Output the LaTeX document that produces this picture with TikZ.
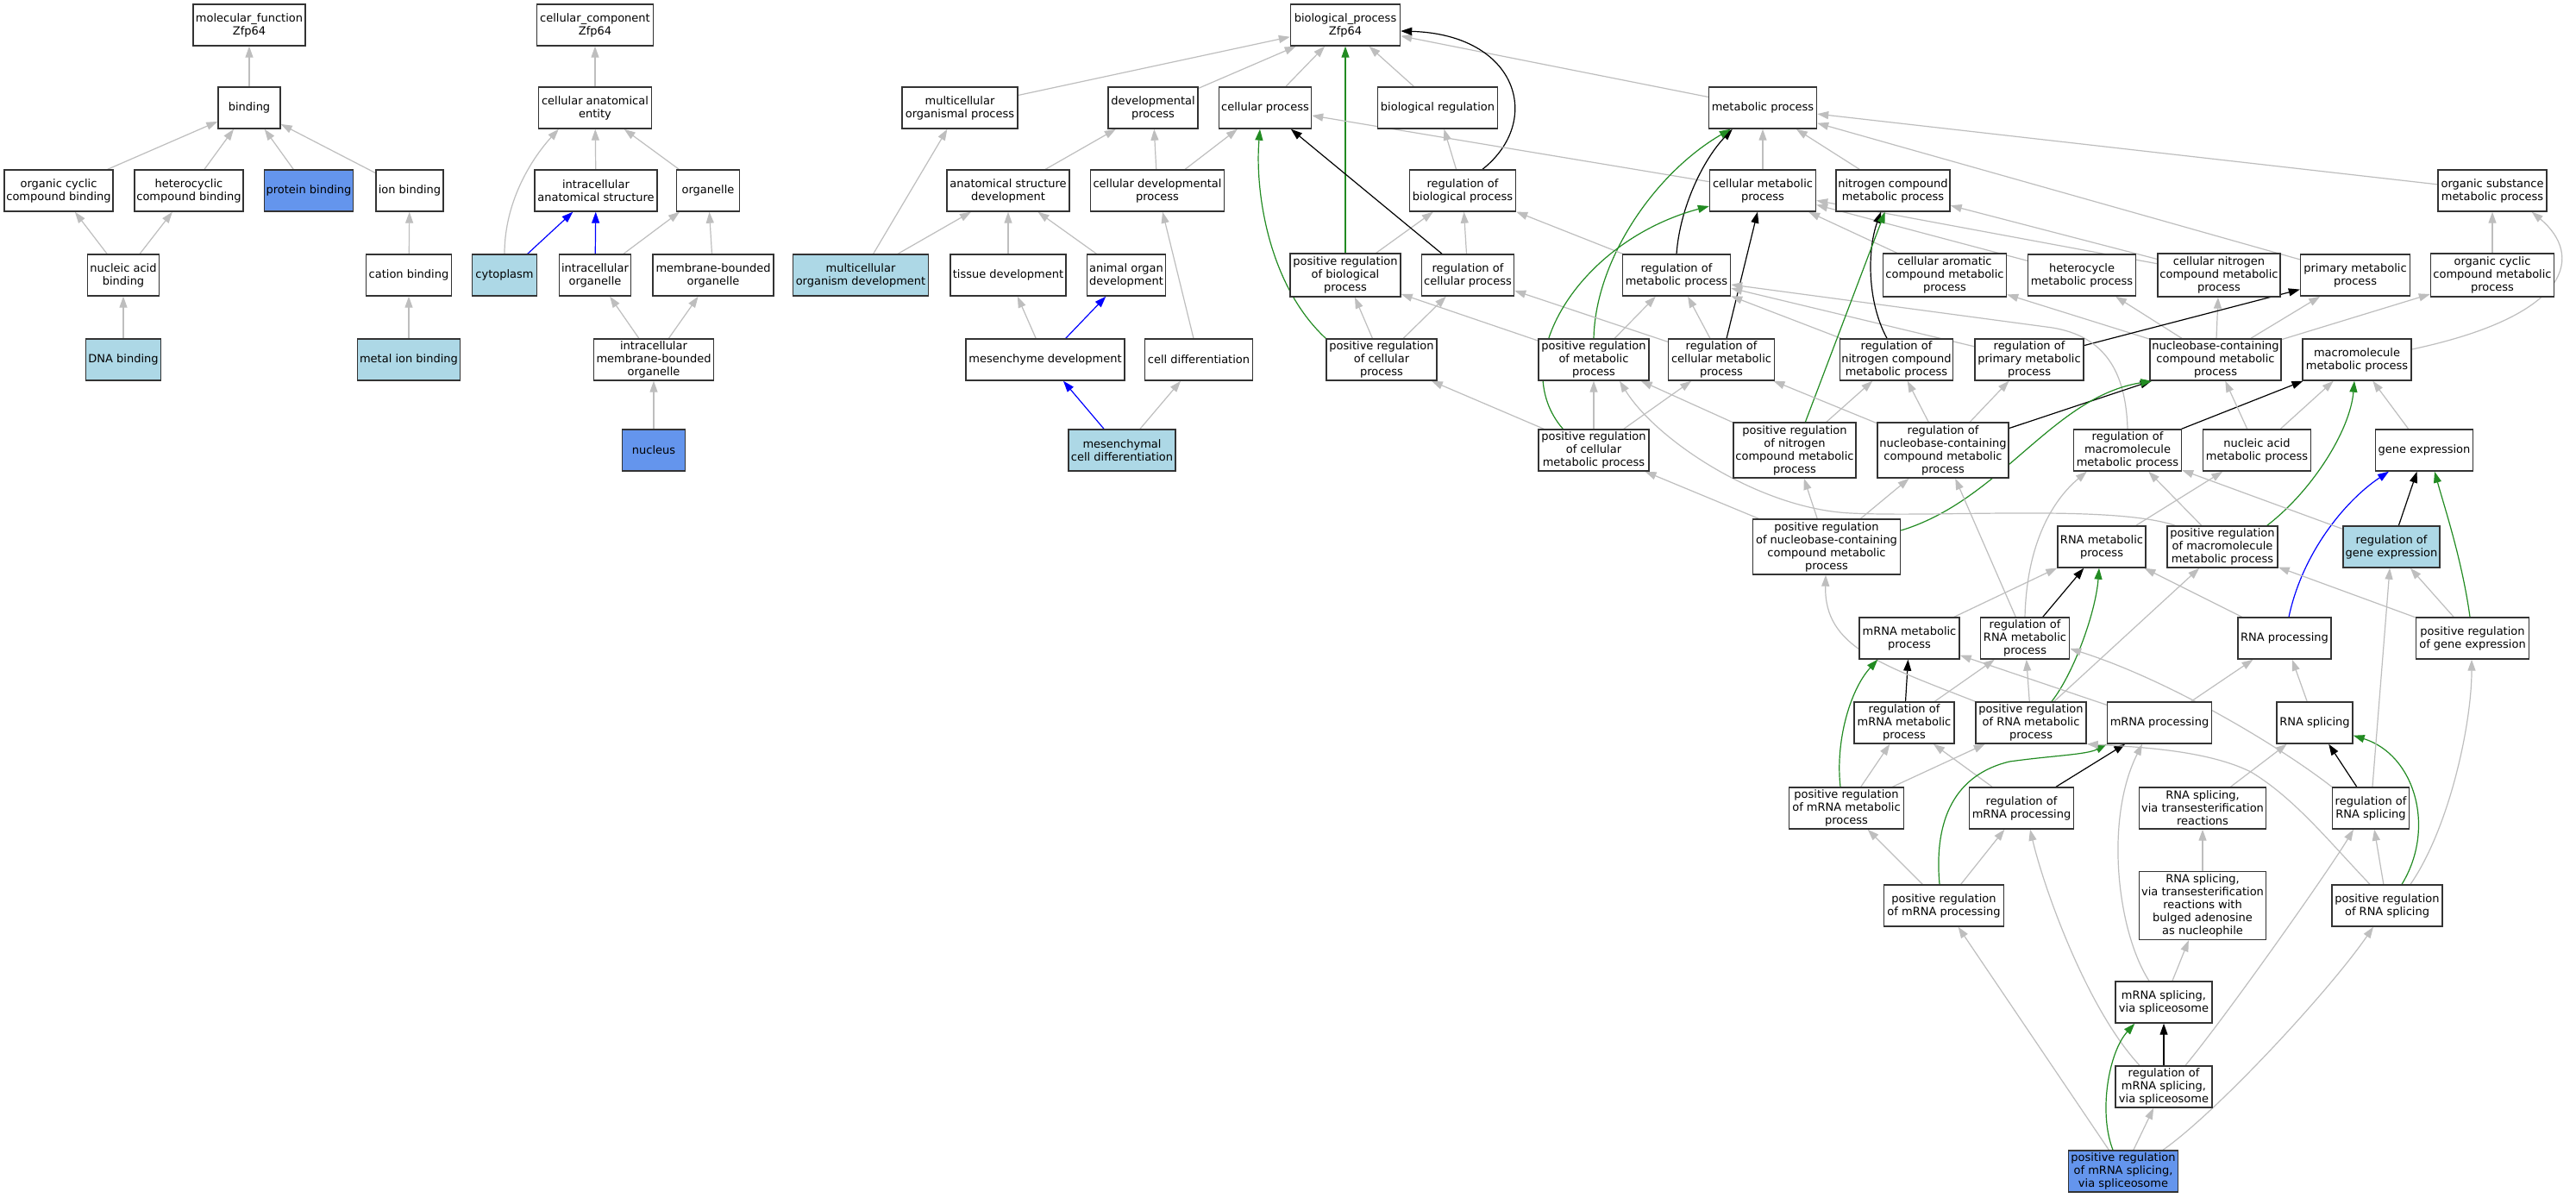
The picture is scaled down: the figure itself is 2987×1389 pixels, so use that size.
\documentclass[tikz,border=0pt]{standalone}
\usepackage{fontspec}
\setmainfont{DejaVu Sans}
\usetikzlibrary{arrows.meta}
\pgfdeclarelayer{bg}
\pgfsetlayers{bg,main}
\definecolor{edgegray}{HTML}{BEBEBE}
\definecolor{fgreen}{HTML}{228B22}
\definecolor{lblue}{HTML}{ADD8E6}
\definecolor{cblue}{HTML}{6495ED}
\definecolor{bordergray}{HTML}{333333}
\begin{document}
\begin{tikzpicture}[x=1pt,y=-1pt,
  box/.style={draw=bordergray,line width=1.4pt,fill=white,minimum height=48pt,inner sep=0pt,align=center,font=\fontsize{13}{15}\selectfont},
  tall/.style={minimum height=64pt},
  edgebase/.style={line width=1.2pt,-{Triangle[length=13pt,width=9pt]}},
  isa/.style={edgebase,draw=edgegray},
  regl/.style={edgebase,draw=black},
  posr/.style={edgebase,draw=fgreen},
  partof/.style={edgebase,draw=blue}]
\path[use as bounding box] (0,0) rectangle (2987,1389);

% ---------- molecular function ----------
\node[box,minimum width=130pt] (mf) at (289,29) {molecular\_function\\Zfp64};
\node[box,minimum width=72pt] (bind) at (289,125) {binding};
\node[box,minimum width=126pt] (ocb) at (68,221) {organic cyclic\\compound binding};
\node[box,minimum width=126pt] (hcb) at (219,221) {heterocyclic\\compound binding};
\node[box,fill=cblue,minimum width=103pt] (pb) at (358,221) {protein binding};
\node[box,minimum width=78pt] (ionb) at (475,221) {ion binding};
\node[box,minimum width=83pt] (nab) at (143,319) {nucleic acid\\binding};
\node[box,minimum width=99pt] (catb) at (474,319) {cation binding};
\node[box,fill=lblue,minimum width=87pt] (dnab) at (143,417) {DNA binding};
\node[box,fill=lblue,minimum width=119pt] (mib) at (474,417) {metal ion binding};

% ---------- cellular component ----------
\node[box,minimum width=135pt] (cc) at (690,29) {cellular\_component\\Zfp64};
\node[box,minimum width=131pt] (cae) at (690,125) {cellular anatomical\\entity};
\node[box,minimum width=142pt] (ias) at (691,221) {intracellular\\anatomical structure};
\node[box,minimum width=73pt] (org) at (821,221) {organelle};
\node[box,fill=lblue,minimum width=75pt] (cyto) at (585,319) {cytoplasm};
\node[box,minimum width=83pt] (io) at (690,319) {intracellular\\organelle};
\node[box,minimum width=140pt] (mbo) at (827,319) {membrane-bounded\\organelle};
\node[box,minimum width=139pt] (imbo) at (758,417) {intracellular\\membrane-bounded\\organelle};
\node[box,fill=cblue,minimum width=73pt] (nuc) at (758,522) {nucleus};

% ---------- biological process ----------
\node[box,minimum width=127pt] (bp) at (1560,29) {biological\_process\\Zfp64};
\node[box,minimum width=134pt] (mop) at (1113,125) {multicellular\\organismal process};
\node[box,minimum width=104pt] (dp) at (1337,125) {developmental\\process};
\node[box,minimum width=107pt] (cp) at (1467,125) {cellular process};
\node[box,minimum width=139pt] (br) at (1667,125) {biological regulation};
\node[box,minimum width=125pt] (mp) at (2044,125) {metabolic process};
\node[box,minimum width=142pt] (asd) at (1169,221) {anatomical structure\\development};
\node[box,minimum width=155pt] (cdp) at (1342,221) {cellular developmental\\process};
\node[box,minimum width=123pt] (rbp) at (1696,221) {regulation of\\biological process};
\node[box,minimum width=123pt] (cmp) at (2044,221) {cellular metabolic\\process};
\node[box,minimum width=132pt] (ncmp) at (2195,221) {nitrogen compound\\metabolic process};
\node[box,minimum width=126pt] (osmp) at (2890,221) {organic substance\\metabolic process};
\node[box,fill=lblue,minimum width=157pt] (mod) at (998,319) {multicellular\\organism development};
\node[box,minimum width=134pt] (td) at (1169,319) {tissue development};
\node[box,minimum width=91pt] (aod) at (1306,319) {animal organ\\development};
\node[box,minimum width=128pt,minimum height=50pt] (prbp) at (1560,319) {positive regulation\\of biological\\process};
\node[box,minimum width=107pt] (rcp) at (1702,319) {regulation of\\cellular process};
\node[box,minimum width=125pt] (rmp) at (1944,319) {regulation of\\metabolic process};
\node[box,minimum width=143pt,minimum height=50pt] (camp) at (2255,319) {cellular aromatic\\compound metabolic\\process};
\node[box,minimum width=125pt] (hmp) at (2414,319) {heterocycle\\metabolic process};
\node[box,minimum width=142pt,minimum height=50pt] (cncmp) at (2573,319) {cellular nitrogen\\compound metabolic\\process};
\node[box,minimum width=127pt] (pmp) at (2731,319) {primary metabolic\\process};
\node[box,minimum width=143pt,minimum height=50pt] (occmp) at (2890,319) {organic cyclic\\compound metabolic\\process};
\node[box,minimum width=184pt] (md) at (1212,417) {mesenchyme development};
\node[box,minimum width=125pt] (cd) at (1390,417) {cell differentiation};
\node[box,minimum width=128pt] (prcp) at (1602,417) {positive regulation\\of cellular\\process};
\node[box,minimum width=128pt] (prmp) at (1848,417) {positive regulation\\of metabolic\\process};
\node[box,minimum width=123pt] (rcmp) at (1996,417) {regulation of\\cellular metabolic\\process};
\node[box,minimum width=131pt] (rncmp) at (2199,417) {regulation of\\nitrogen compound\\metabolic process};
\node[box,minimum width=126pt] (rpmp) at (2353,417) {regulation of\\primary metabolic\\process};
\node[box,minimum width=152pt] (nbcmp) at (2569,417) {nucleobase-containing\\compound metabolic\\process};
\node[box,minimum width=126pt] (mmp) at (2733,417) {macromolecule\\metabolic process};
\node[box,fill=lblue,minimum width=124pt] (mcd) at (1301,522) {mesenchymal\\cell differentiation};
\node[box,minimum width=128pt] (prcmp) at (1848,522) {positive regulation\\of cellular\\metabolic process};
\node[box,tall,minimum width=142pt] (prncmp) at (2081,522) {positive regulation\\of nitrogen\\compound metabolic\\process};
\node[box,tall,minimum width=152pt] (rnbcmp) at (2253,522) {regulation of\\nucleobase-containing\\compound metabolic\\process};
\node[box,minimum width=125pt] (rmmp) at (2467,522) {regulation of\\macromolecule\\metabolic process};
\node[box,minimum width=125pt] (namp) at (2617,522) {nucleic acid\\metabolic process};
\node[box,minimum width=113pt] (ge) at (2811,522) {gene expression};
\node[box,tall,minimum width=171pt] (prnbcmp) at (2118,634) {positive regulation\\of nucleobase-containing\\compound metabolic\\process};
\node[box,minimum width=102pt] (rnamp) at (2437,634) {RNA metabolic\\process};
\node[box,minimum width=128pt] (prmmp) at (2577,634) {positive regulation\\of macromolecule\\metabolic process};
\node[box,fill=lblue,minimum width=112pt] (rge) at (2773,634) {regulation of\\gene expression};
\node[box,minimum width=116pt] (mrnamp) at (2214,740) {mRNA metabolic\\process};
\node[box,minimum width=103pt] (rrnamp) at (2348,740) {regulation of\\RNA metabolic\\process};
\node[box,minimum width=108pt] (rnap) at (2649,740) {RNA processing};
\node[box,minimum width=131pt] (prge) at (2867,740) {positive regulation\\of gene expression};
\node[box,minimum width=116pt] (rmrnamp) at (2208,838) {regulation of\\mRNA metabolic\\process};
\node[box,minimum width=128pt] (prrnamp) at (2355,838) {positive regulation\\of RNA metabolic\\process};
\node[box,minimum width=121pt] (mrnap) at (2504,838) {mRNA processing};
\node[box,minimum width=88pt] (rnas) at (2684,838) {RNA splicing};
\node[box,minimum width=133pt] (prmrnamp) at (2141,937) {positive regulation\\of mRNA metabolic\\process};
\node[box,minimum width=121pt] (rmrnap) at (2344,937) {regulation of\\mRNA processing};
\node[box,minimum width=147pt] (rnaste) at (2554,937) {RNA splicing,\\via transesterification\\reactions};
\node[box,minimum width=89pt] (rrnas) at (2749,937) {regulation of\\RNA splicing};
\node[box,minimum width=139pt] (prmrnap) at (2254,1050) {positive regulation\\of mRNA processing};
\node[box,minimum width=147pt,minimum height=79pt] (rnasb) at (2554,1050) {RNA splicing,\\via transesterification\\reactions with\\bulged adenosine\\as nucleophile};
\node[box,minimum width=128pt] (prrnas) at (2768,1050) {positive regulation\\of RNA splicing};
\node[box,minimum width=112pt] (mrnass) at (2509,1162) {mRNA splicing,\\via spliceosome};
\node[box,minimum width=112pt] (rmrnass) at (2509,1260) {regulation of\\mRNA splicing,\\via spliceosome};
\node[box,fill=cblue,minimum width=127pt] (prmrnass) at (2462,1358) {positive regulation\\of mRNA splicing,\\via spliceosome};

\begin{pgfonlayer}{bg}
\fill[white] (0,0) rectangle (2987,1389);
% molecular function
\draw[isa] (bind) -- (mf);
\draw[isa] (ocb) -- (bind);
\draw[isa] (hcb) -- (bind);
\draw[isa] (pb) -- (bind);
\draw[isa] (ionb) -- (bind);
\draw[isa] (nab) -- (ocb);
\draw[isa] (nab) -- (hcb);
\draw[isa] (dnab) -- (nab);
\draw[isa] (catb) -- (ionb);
\draw[isa] (mib) -- (catb);
% cellular component
\draw[isa] (cae) -- (cc);
\draw[isa] (cyto.north) .. controls (585,230) and (620,180) .. ([xshift=24pt]cae.south west);
\draw[isa] (ias) -- (cae);
\draw[isa] (org) -- (cae);
\draw[partof] (cyto) -- (ias);
\draw[partof] (io) -- (ias);
\draw[isa] (io) -- (org);
\draw[isa] (mbo) -- (org);
\draw[isa] (imbo) -- (io);
\draw[isa] (imbo) -- (mbo);
\draw[isa] (nuc) -- (imbo);
% biological process
\draw[isa] (mop) -- (bp);
\draw[isa] (dp) -- (bp);
\draw[isa] (cp) -- (bp);
\draw[isa] (br) -- (bp);
\draw[isa] (mp) -- (bp);
\draw[regl] ([xshift=23pt]rbp.north) .. controls (1790,140) and (1760,40) .. ([yshift=-7pt]bp.east);
\draw[posr] (prbp) -- (bp);
\draw[isa] (asd) -- (dp);
\draw[isa] (cdp) -- (dp);
\draw[isa] (cdp) -- (cp);
\draw[isa] (mod) -- (mop);
\draw[isa] (mod) -- (asd);
\draw[isa] (td) -- (asd);
\draw[isa] (aod) -- (asd);
\draw[isa] (md) -- (td);
\draw[partof] (md) -- (aod);
\draw[isa] (cd) -- (cdp);
\draw[partof] (mcd) -- (md);
\draw[isa] (mcd) -- (cd);
\draw[isa] (rbp) -- (br);
\draw[isa] (prbp) -- (rbp);
\draw[isa] (rcp) -- (rbp);
\draw[regl] (rcp) -- (cp);
\draw[posr] (prcp.north west) .. controls (1470,330) and (1455,220) .. ([xshift=-6pt]cp.south);
\draw[isa] (prcp) -- (prbp);
\draw[isa] (prcp) -- (rcp);
\draw[isa] (cmp) -- (cp);
\draw[isa] (cmp) -- (mp);
\draw[isa] (ncmp) -- (mp);
\draw[isa] (osmp) -- (mp);
\draw[isa] (pmp) -- (mp);
\draw[regl] (rmp.north) .. controls (1948,240) and (1975,185) .. ([xshift=28pt]mp.south west);
\draw[posr] (prmp.north) .. controls (1850,300) and (1920,200) .. ([xshift=26pt]mp.south west);
\draw[isa] (rmp) -- (rbp);
\draw[isa] (prmp) -- (rmp);
\draw[isa] (prmp) -- (prbp);
\draw[isa] (rcmp) -- (rmp);
\draw[regl] (rcmp) -- (cmp);
\draw[isa] (rcmp) -- (rcp);
\draw[isa] (prcmp) -- (prcp);
\draw[isa] (prcmp) -- (prmp);
\draw[isa] (prcmp) -- (rcmp);
\draw[posr] ([xshift=29pt]prcmp.north west) .. controls (1745,420) and (1830,280) .. ([yshift=-18pt]cmp.west);
\draw[isa] (camp) -- (cmp);
\draw[isa] (hmp) -- (cmp);
\draw[isa] (cncmp) -- (cmp);
\draw[isa] (cncmp) -- (ncmp);
\draw[isa] (occmp) -- (osmp);
\draw[isa] ([yshift=12pt]mmp.east) .. controls (2985,365) and (2995,295) .. ([xshift=-18pt]osmp.south east);
\draw[isa] (nbcmp) -- (camp);
\draw[isa] (nbcmp) -- (hmp);
\draw[isa] (nbcmp) -- (cncmp);
\draw[isa] (nbcmp) -- (pmp);
\draw[isa] (nbcmp) -- (occmp);
\draw[regl] (rpmp) -- (pmp);
\draw[isa] (rpmp) -- (rmp);
\draw[isa] (rmmp.north) .. controls (2465,430) and (2440,390) .. (2380,380) -- ([yshift=-11pt]rmp.east);
\draw[regl] ([xshift=-11pt]rncmp.north) .. controls (2165,350) and (2165,290) .. ([xshift=-14pt]ncmp.south);
\draw[isa] (rncmp) -- (rmp);
\draw[posr] (prncmp) -- (ncmp);
\draw[isa] (prncmp) -- (rncmp);
\draw[isa] (prncmp) -- (prmp);
\draw[isa] (rnbcmp) -- (rncmp);
\draw[isa] (rnbcmp) -- (rcmp);
\draw[isa] (rnbcmp) -- (rpmp);
\draw[regl] (rnbcmp) -- (nbcmp);
\draw[isa] (prnbcmp) -- (prcmp);
\draw[isa] (prnbcmp) -- (prncmp);
\draw[isa] (prnbcmp) -- (rnbcmp);
\draw[posr] ([yshift=19pt]prnbcmp.east) .. controls (2320,580) and (2380,460) .. ([xshift=3pt]nbcmp.south west);
\draw[isa] ([xshift=10pt]prmmp.north west) .. controls (2450,585) and (2250,600) .. (2146,595) .. controls (2040,590) and (1920,510) .. ([xshift=30pt]prmp.south);
\draw[isa] (prmmp) -- (rmmp);
\draw[posr] ([xshift=-13pt]prmmp.north east) .. controls (2680,570) and (2725,500) .. ([xshift=-3pt]mmp.south);
\draw[regl] (rmmp) -- (mmp);
\draw[isa] (namp) -- (nbcmp);
\draw[isa] (namp) -- (mmp);
\draw[isa] (ge) -- (mmp);
\draw[isa] (rnamp) -- (namp);
\draw[isa] (rrnamp.north) .. controls (2350,630) and (2380,580) .. ([xshift=16pt]rmmp.south west);
\draw[isa] (rrnamp) -- (rnbcmp);
\draw[regl] (rrnamp) -- (rnamp);
\draw[posr] ([xshift=24pt]prrnamp.north) .. controls (2405,780) and (2430,710) .. ([xshift=-3pt]rnamp.south);
\draw[isa] (mrnamp) -- (rnamp);
\draw[regl] (rmrnamp) -- (mrnamp);
\draw[isa] (rmrnamp) -- (rrnamp);
\draw[isa] (prrnamp) -- (rrnamp);
\draw[isa] (prrnamp.north west) .. controls (2180,770) and (2115,750) .. ([xshift=-1pt]prnbcmp.south);
\draw[isa] (prrnamp) -- (prmmp);
\draw[isa] (mrnap) -- (mrnamp);
\draw[isa] (mrnap) -- (rnap);
\draw[isa] (rnap) -- (rnamp);
\draw[partof] ([xshift=5pt]rnap.north) .. controls (2670,640) and (2720,580) .. ([xshift=-41pt]ge.south);
\draw[regl] (rge) -- (ge);
\draw[posr] ([xshift=-3pt]prge.north) .. controls (2855,650) and (2835,590) .. ([xshift=12pt]ge.south);
\draw[isa] (prge) -- (rge);
\draw[isa] (prge) -- (prmmp);
\draw[isa] (rge) -- (rmmp);
\draw[isa] (rnas) -- (rnap);
\draw[posr] ([xshift=-7pt]prmrnamp.north) .. controls (2128,860) and (2145,800) .. ([xshift=22pt]mrnamp.south west);
\draw[isa] (prmrnamp) -- (rmrnamp);
\draw[isa] (prmrnamp) -- (prrnamp);
\draw[regl] (rmrnap) -- (mrnap);
\draw[isa] (rmrnap) -- (rmrnamp);
\draw[posr] ([xshift=-5pt]prmrnap.north) .. controls (2243,960) and (2260,900) .. (2330,883) .. controls (2380,876) and (2420,875) .. (mrnap.south west);
\draw[isa] (prmrnap) -- (prmrnamp);
\draw[isa] (prmrnap) -- (rmrnap);
\draw[regl] (rrnas) -- (rnas);
\draw[isa] (rrnas.north west) .. controls (2650,870) and (2520,790) .. ([yshift=-12pt]rrnamp.east);
\draw[isa] ([xshift=-20pt]prrnas.north) .. controls (2700,975) and (2660,925) .. (2610,895) .. controls (2560,870) and (2480,866) .. (prrnamp.south east);
\draw[isa] (rnaste) -- (rnas);
\draw[isa] (rnasb) -- (rnaste);
\draw[isa] (mrnass) -- (rnasb);
\draw[isa] ([xshift=-17pt]mrnass.north) .. controls (2455,1080) and (2440,950) .. ([xshift=-20pt]mrnap.south);
\draw[regl] (rmrnass) -- (mrnass);
\draw[isa] ([xshift=-28pt]rmrnass.north) .. controls (2420,1170) and (2370,1030) .. ([xshift=10pt]rmrnap.south);
\draw[isa] ([xshift=25pt]rmrnass.north) .. controls (2580,1180) and (2700,1010) .. ([xshift=-20pt]rrnas.south);
\draw[posr] ([xshift=-12pt]prmrnass.north) .. controls (2433,1290) and (2445,1220) .. ([xshift=23pt]mrnass.south west);
\draw[isa] (prmrnass) -- (rmrnass);
\draw[isa] (prmrnass) -- (prmrnap);
\draw[isa] ([xshift=46pt]prmrnass.north) .. controls (2570,1290) and (2700,1150) .. ([xshift=-16pt]prrnas.south);
\draw[posr] ([xshift=17pt]prrnas.north) .. controls (2825,960) and (2800,875) .. ([yshift=10pt]rnas.south east);
\draw[isa] (prrnas) -- (rrnas);
\draw[isa] ([xshift=27pt]prrnas.north) .. controls (2840,960) and (2866,840) .. ([xshift=-1pt]prge.south);
\draw[isa] (rrnas) -- (rge);
\end{pgfonlayer}
\end{tikzpicture}
\end{document}
